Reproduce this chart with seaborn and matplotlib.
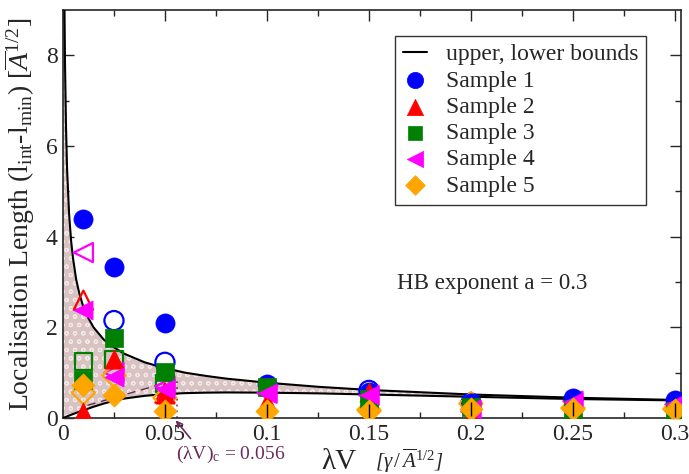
import numpy as np
import pandas as pd
import matplotlib
matplotlib.use("Agg")
import matplotlib.pyplot as plt
import seaborn as sns

# ---- data -------------------------------------------------------------
lam_v = [0.01, 0.025, 0.05, 0.1, 0.15, 0.2, 0.25, 0.3]
sample_names = ["Sample 1", "Sample 2", "Sample 3", "Sample 4", "Sample 5"]

# filled symbols (legend series)
sample1 = [4.40, 3.33, 2.09, 0.76, 0.58, 0.33, 0.45, 0.40]
sample2 = [0.14, 1.31, 0.52, 0.36, 0.58, 0.03, 0.05, 0.05]
sample3 = [0.83, 1.76, 1.02, 0.69, 0.43, 0.25, 0.20, 0.15]
sample4 = [2.38, 0.90, 0.65, 0.55, 0.50, 0.20, 0.36, 0.30]
sample5 = [0.74, 0.50, 0.15, 0.15, 0.15, 0.20, 0.20, 0.18]
sample5_err = [0.0, 0.0, 0.15, 0.15, 0.15, 0.15, 0.15, 0.15]

# open symbols
sample1_open = [np.nan, 2.15, 1.23, np.nan, 0.61, 0.33, np.nan, np.nan]
sample2_open = [2.60, np.nan, 0.55, np.nan, np.nan, np.nan, np.nan, np.nan]
sample3_open = [1.25, 1.29, 0.76, np.nan, np.nan, np.nan, np.nan, np.nan]
sample4_open = [3.65, 1.00, 0.70, 0.55, 0.50, 0.14, 0.37, 0.30]
sample5_open = [0.56, 0.94, 0.45, np.nan, 0.18, 0.32, 0.22, 0.20]

# theoretical upper / lower bounds
bound_x = [0.0, 0.0007, 0.001, 0.0015, 0.002, 0.003, 0.004, 0.005, 0.0065,
           0.008, 0.01, 0.0125, 0.015, 0.02, 0.025, 0.03, 0.04, 0.05, 0.06,
           0.07, 0.08, 0.1, 0.125, 0.15, 0.2, 0.25, 0.3]
upper_bound = [9.6, 9.2, 7.8, 6.4, 5.5, 4.5, 3.9, 3.5, 3.05, 2.75, 2.45, 2.2,
               2.0, 1.73, 1.56, 1.42, 1.23, 1.10, 1.00, 0.93, 0.87, 0.78,
               0.69, 0.62, 0.52, 0.45, 0.40]
lower_bound = [0.0, 0.013, 0.018, 0.027, 0.036, 0.054, 0.072, 0.09, 0.115,
               0.14, 0.17, 0.21, 0.25, 0.32, 0.38, 0.43, 0.49, 0.53, 0.55,
               0.56, 0.565, 0.56, 0.545, 0.52, 0.47, 0.42, 0.39]

crit_lam_v = 0.056
crit_dash_x = [0.012, 0.056]
crit_dash_y = [0.28, 0.85]
crit_dot_y = [0.0, 0.85]

colors = ["#0000ff", "#ff0000", "#008000", "#ff00ff", "#ffa500"]
markers = ["o", "^", "s", "<", "D"]
sizes = [190, 190, 160, 190, 140]

# ---- style -------------------------------------------------------------
sns.set_style("ticks")
plt.rcParams["font.family"] = ["Liberation Serif", "DejaVu Serif"]
plt.rcParams["mathtext.fontset"] = "custom"
plt.rcParams["mathtext.rm"] = "Liberation Serif"
plt.rcParams["mathtext.it"] = "Liberation Serif:italic"
plt.rcParams["mathtext.bf"] = "Liberation Serif:bold"
plt.rcParams["hatch.linewidth"] = 0.8

fig = plt.figure(figsize=(6.89, 4.74), dpi=100)
ax = fig.add_axes([0.0914, 0.118, 0.897, 0.861])

# shaded band between the bounds
bounds = pd.DataFrame({"x": bound_x, "upper": upper_bound, "lower": lower_bound})
ax.fill_between(bounds["x"], bounds["lower"], bounds["upper"],
                facecolor="#d9c2c2", edgecolor="#f2e8e8", hatch="oo",
                linewidth=0, zorder=1)
sns.lineplot(data=bounds, x="x", y="upper", color="black", lw=1.5, ax=ax,
             zorder=3, label="upper, lower bounds")
sns.lineplot(data=bounds, x="x", y="lower", color="black", lw=1.5, ax=ax,
             zorder=3)

# critical coupling guides
ax.plot(crit_dash_x, crit_dash_y, ls=(0, (6, 4)), color="#6b2a5e", lw=1.0, zorder=2)
ax.plot([crit_lam_v, crit_lam_v], crit_dot_y, ls=(0, (1, 2.5)), color="#6b2a5e",
        lw=1.2, zorder=2)

# open symbols
opens = [sample1_open, sample2_open, sample3_open, sample4_open, sample5_open]
for vals, c, m, s in zip(opens, colors, markers, sizes):
    d = pd.DataFrame({"x": lam_v, "y": vals}).dropna()
    sns.scatterplot(data=d, x="x", y="y", marker=m, s=s, facecolor="none",
                    edgecolor=c, linewidth=1.6, ax=ax, zorder=4, legend=False)

# filled symbols
filled = [sample1, sample2, sample3, sample4, sample5]
for vals, name, c, m, s in zip(filled, sample_names, colors, markers, sizes):
    d = pd.DataFrame({"x": lam_v, "y": vals})
    sns.scatterplot(data=d, x="x", y="y", marker=m, s=s, color=c,
                    edgecolor=c, linewidth=0.5, ax=ax, zorder=5, label=name)

ax.errorbar(lam_v, sample5, yerr=sample5_err, fmt="none", ecolor="black",
            elinewidth=1.0, capsize=0, zorder=6)

# axes
ax.set_xlim(0, 0.303)
ax.set_ylim(0, 9)
ax.set_xticks([0, 0.05, 0.1, 0.15, 0.2, 0.25, 0.3])
ax.set_xticklabels(["0", "0.05", "0.1", "0.15", "0.2", "0.25", "0.3"])
ax.set_xticks(np.arange(0.025, 0.3, 0.05), minor=True)
ax.set_yticks([0, 2, 4, 6, 8])
ax.set_yticks([1, 3, 5, 7], minor=True)
ax.tick_params(which="both", direction="in", top=True, right=True,
               labelsize=17, width=1.0, pad=4)
ax.tick_params(which="major", length=8)
ax.tick_params(which="minor", length=4)
for sp in ax.spines.values():
    sp.set_linewidth(1.2)
    sp.set_visible(True)

ax.set_xlabel("")
ax.set_ylabel(r"Localisation Length (l$_{\mathrm{int}}$-l$_{\mathrm{min}}$) "
              r"[$\overline{A}^{1/2}$]", fontsize=20, labelpad=6)

ax.text(0.418, -0.108, "λV", transform=ax.transAxes, fontsize=21,
        ha="left", va="center")
ax.text(0.505, -0.105, r"[$\gamma\,/\,\overline{A}^{1/2}$]", transform=ax.transAxes,
        fontsize=15, style="italic", ha="left", va="center")

ax.text(0.164, 2.96, "HB exponent a = 0.3", fontsize=16.5, ha="left",
        va="center")

# critical point label with arrow
ax.text(0.082, -0.80, r"($\mathrm{\lambda V}$)$_\mathrm{c}$ = 0.056",
        color="#6b2a5e", fontsize=14, ha="center", va="center", clip_on=False)
ax.annotate("", xy=(0.0553, -0.05), xytext=(0.0625, -0.45), textcoords="data",
            annotation_clip=False,
            arrowprops=dict(arrowstyle="->", color="#6b2a5e", lw=1.2,
                            shrinkA=0, shrinkB=0))

leg = ax.legend(loc="upper right", bbox_to_anchor=(0.963, 0.966), fontsize=17,
                frameon=True, fancybox=False, edgecolor="black",
                handlelength=1.0, handletextpad=0.8, labelspacing=0.2,
                borderpad=0.35, markerscale=0.85)
leg.get_frame().set_linewidth(1.0)

fig.savefig("out.png", dpi=100)
